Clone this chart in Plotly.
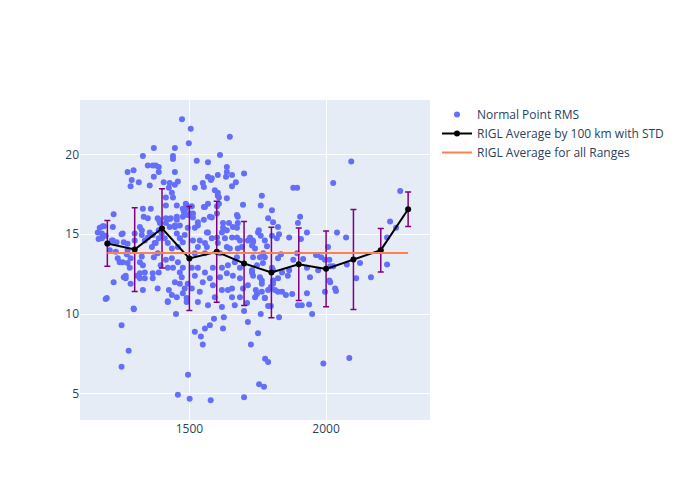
import plotly.graph_objects as go

# Normal point RMS scatter (range km, RMS)
pts = [
(1252,9.3),(1278,7.7),(1252,6.7),(1194,10.95),(1223,12.0),(1297,10.3),(1451,10.0),(1495,6.2),(1458,4.95),
(1501,4.7),(1578,4.6),(1700,4.8),(1755,5.6),(1773,5.45),(1520,8.9),(1542,8.6),(1549,8.1),(1557,9.1),
(1575,9.3),(1590,9.7),(1623,9.1),(1626,9.8),(1714,9.5),(1725,8.1),(1751,8.8),(1700,10.2),(1421,10.8),
(1777,7.2),(1788,7.0),(1990,6.9),(2085,7.25),
(2223,13.1),(2164,12.3),(2110,12.25),(2124,13.2),(2076,13.1),(2033,11.6),(2036,11.45),(2015,12.0),
(1996,11.4),(1949,10.0),(1938,10.6),(1930,11.3),(1911,10.55),(1897,10.55),(1876,11.25),(1853,11.2),
(1839,11.4),(1824,11.4),(1828,9.8),(1761,10.0),(1776,11.0),(1747,11.25),(1788,10.5),(1798,10.5),
(1806,12.1),(1860,12.4),(1835,13.75),(1880,13.4),(1930,12.9),(1941,12.3),(1971,12.75),(2012,12.1),
(2026,13.0),(2012,13.4),(1982,13.55),(1963,13.7),(1916,13.45),(1894,13.8),(1770,13.8),(1758,13.55),
(1733,13.55),(1729,12.75),(1733,12.4),(1765,12.1),(1765,11.9),(1743,11.5),(1798,11.7),(1813,11.5),
(1806,12.75),(1802,12.9),(1865,12.75),(1839,12.6),
(2092,19.55),(2026,18.2),(1880,17.9),(1894,17.9),(1765,17.4),(1761,16.8),(1802,16.5),(1788,16.0),
(1806,15.75),(1905,16.1),(1897,15.7),(1930,15.1),(1865,14.8),(1908,14.7),(1828,15.0),(1802,14.9),
(1761,14.9),(1751,15.1),(1733,14.6),(1784,14.25),(2007,14.2),(2040,15.1),(2073,14.8),(1967,13.7),
(2234,15.8),(2256,15.4),(2271,17.7),(2223,14.8),(1996,13.4),(2015,13.0),
(1473,22.2),(1505,21.6),(1498,20.7),(1648,21.1),(1370,20.4),(1447,20.4),(1330,19.9),(1440,19.9),
(1440,19.7),(1527,19.6),(1568,19.5),(1612,19.95),(1637,19.2),(1637,18.9),(1700,18.8),(1656,18.7),
(1604,18.7),(1634,18.6),(1568,18.6),(1579,18.4),(1582,18.5),(1549,18.2),(1670,18.25),(1656,18.0),
(1520,17.9),(1553,17.95),(1593,17.75),(1604,17.6),(1604,17.4),(1637,17.25),(1696,16.85),(1557,16.7),
(1601,16.75),(1513,16.3),(1601,16.3),(1677,16.1),(1575,16.1),(1531,15.75),(1623,15.7),(1645,15.7),
(1677,15.7),(1490,16.8),(1509,16.75),(1568,16.9),(1608,16.9),
(1348,19.3),(1366,19.3),(1377,19.3),(1388,19.2),(1274,18.9),(1296,19.0),(1388,18.9),(1370,18.6),
(1447,18.9),(1289,18.4),(1315,18.25),(1285,18.0),(1355,18.05),(1406,18.25),(1428,18.2),(1458,18.3),
(1447,18.1),(1425,17.9),(1436,17.6),(1414,17.3),(1440,17.3),(1414,16.8),(1454,16.8),(1487,16.9),
(1494,16.7),(1476,16.6),(1223,16.25),(1330,16.6),(1359,16.6),(1333,16.1),(1348,16.0),(1388,15.9),
(1414,16.0),(1432,16.0),(1454,16.1),(1480,16.4),(1476,16.1),(1494,16.2),(1183,15.5),(1220,15.45),
(1180,15.05),(1187,15.5),(1180,14.75),(1216,14.6),(1252,15.0),(1274,14.0),(1300,15.05),(1300,14.6),
(1326,15.25),(1348,14.8),(1363,14.2),(1377,14.45),(1384,16.0),(1392,15.7),(1388,15.25),(1395,15.3),
(1414,15.7),(1428,15.95),(1447,15.55),(1454,15.9),(1465,15.55),(1487,16.6),(1502,16.3),(1513,16.05),
(1531,15.55),(1553,16.7),(1553,15.9),(1568,15.1),(1582,16.05),(1608,17.3),(1674,16.2),(1637,15.25),
(1623,15.4),(1601,14.8),(1674,15.4),(1656,14.8),(1714,14.6),(1733,14.5),(1740,14.1),(1692,14.2),
(1637,14.2),(1564,14.2),(1531,14.2),(1476,14.5),(1458,14.2),(1436,14.1),(1399,15.05),(1384,13.8),
(1370,13.55),
(1172,15.4),(1194,14.9),(1220,14.6),(1234,14.5),(1256,15.05),(1260,14.5),(1274,14.4),(1274,13.2),
(1260,12.3),(1198,11.0),(1296,10.35),(1285,11.9),(1267,12.25),(1267,12.4),(1282,12.9),(1285,13.5),
(1256,13.25),(1271,13.75),(1319,15.45),(1326,14.95),(1337,14.6),(1355,15.1),(1366,14.95),(1373,14.45),
(1388,14.75),(1410,14.75),(1421,14.45),(1428,15.45),(1447,15.45),(1454,15.05),(1465,14.75),(1483,14.95),
(1326,13.6),(1319,13.25),(1330,13.05),(1337,12.6),(1319,12.55),(1308,12.4),(1337,12.25),(1319,12.25),
(1366,12.55),(1366,12.25),(1388,12.6),(1395,13.05),(1414,13.4),(1436,13.5),(1421,12.9),(1440,12.9),
(1458,13.25),(1465,12.6),(1476,12.9),(1330,11.5),(1384,11.6),(1425,11.5),(1447,12.0),(1465,11.9),
(1436,11.2),(1421,10.75),(1454,11.05),(1476,11.3),(1483,11.6),(1490,11.0),(1472,12.3),
(1201,14.4),(1209,14.0),(1231,13.9),(1238,13.5),(1245,13.25),(1165,15.1),(1168,14.7),
(1494,15.4),(1520,15.4),(1513,14.6),(1538,14.6),(1564,15.1),(1582,14.75),(1557,14.45),(1604,14.45),
(1619,15.1),(1659,15.45),(1674,14.8),(1648,14.1),(1677,14.1),(1722,14.8),(1729,14.3),(1754,15.25),
(1776,14.6),(1820,14.75),(1824,15.45),(1776,13.55),(1824,13.5),(1769,13.2),(1747,13.05),(1729,12.6),
(1758,12.3),(1806,11.9),(1824,12.25),(1765,11.4),(1788,11.5),(1740,11.05),(1776,11.0),(1685,11.05),
(1656,11.05),(1656,11.6),(1696,11.6),(1714,11.8),(1685,12.25),(1659,12.4),(1637,12.55),(1641,13.05),
(1666,13.25),(1685,12.9),(1619,12.9),(1586,12.9),(1612,12.3),(1575,12.25),(1557,12.6),(1531,12.9),
(1509,12.9),(1520,12.4),(1549,12.0),(1586,11.8),(1619,11.5),(1641,11.5),(1538,11.4),(1509,11.6),
(1494,11.9),(1531,10.75),(1593,11.05),(1568,10.55),(1619,10.45),(1666,10.55),(1711,10.7),(1490,10.75),
(1557,13.8),(1520,13.8),(1612,13.8),(1674,13.55),(1685,14.6),(1630,14.75),
]
rms_range = [p[0] for p in pts]
rms_value = [p[1] for p in pts]

# Averages by 100 km bins
avg_range = [1200, 1300, 1400, 1500, 1600, 1700, 1800, 1900, 2000, 2100, 2200, 2300]
avg_value = [14.42, 14.04, 15.36, 13.48, 13.9, 13.17, 12.6, 13.12, 12.83, 13.42, 14.0, 16.56]
avg_std = [1.43, 2.62, 2.48, 3.25, 3.16, 2.63, 2.83, 2.27, 2.37, 3.13, 1.36, 1.08]

# Overall average
all_range = [1200, 2300]
all_value = [13.83, 13.83]

fig = go.Figure()
fig.add_trace(go.Scatter(x=rms_range, y=rms_value, mode="markers", name="Normal Point RMS",
                         marker=dict(color="#636efa", size=6)))
fig.add_trace(go.Scatter(x=avg_range, y=avg_value, mode="lines+markers",
                         name="RIGL Average by 100 km with STD",
                         line=dict(color="black", width=2), marker=dict(color="black", size=6),
                         error_y=dict(type="data", array=avg_std, visible=True,
                                      color="purple", thickness=1.5, width=3)))
fig.add_trace(go.Scatter(x=all_range, y=all_value, mode="lines", name="RIGL Average for all Ranges",
                         line=dict(color="#ff7f50", width=2)))

fig.update_layout(
    width=700, height=500,
    margin=dict(l=80, r=270, t=100, b=80),
    template="plotly",
    showlegend=True,
)
fig.update_xaxes(range=[1100, 2380], dtick=500)
fig.update_yaxes(range=[3.37, 23.4], dtick=5)
fig.write_html("out.html")
